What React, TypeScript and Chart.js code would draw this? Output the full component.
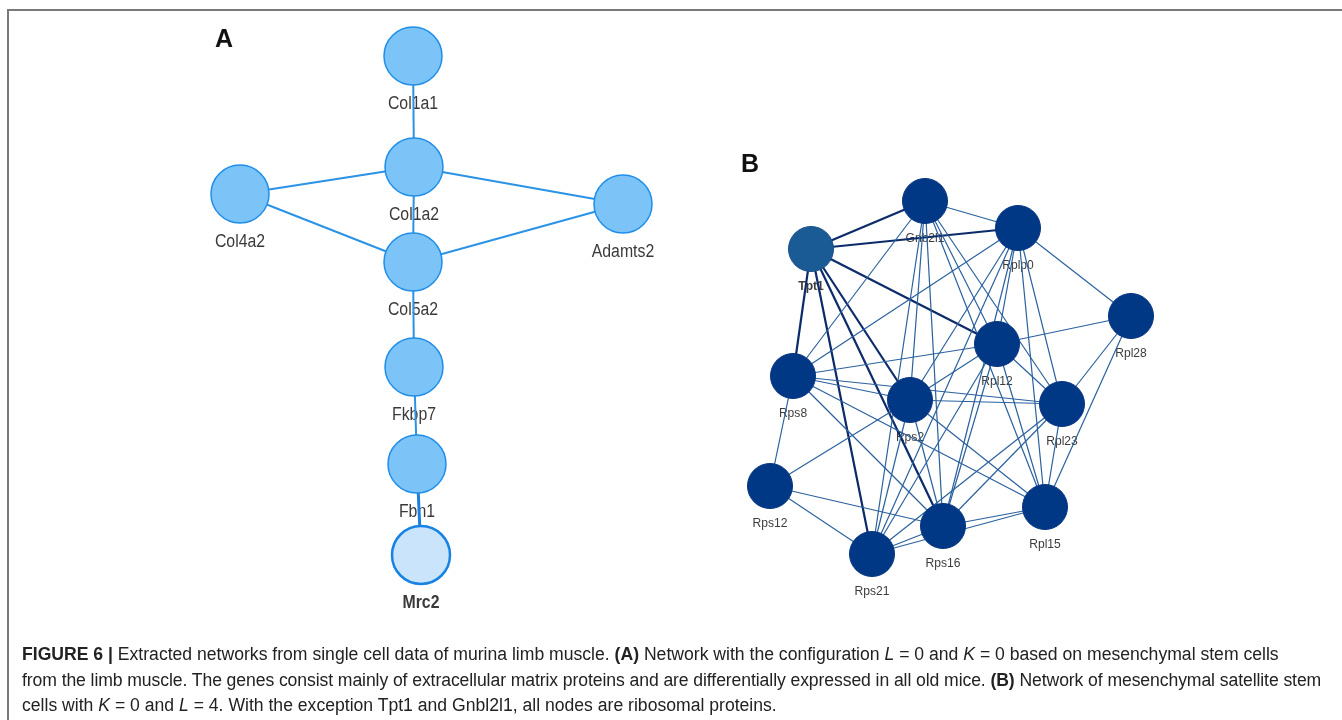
import React, { useEffect, useRef } from "react";
import { Chart, registerables } from "chart.js";

Chart.register(...registerables);

// Network A: extracellular matrix genes (mesenchymal stem cells)
const aNames = ["Col1a1", "Col1a2", "Col4a2", "Adamts2", "Col5a2", "Fkbp7", "Fbn1", "Mrc2"];
const aX = [413, 414, 240, 623, 413, 414, 417, 421];
const aY = [56, 167, 194, 204, 262, 367, 464, 555];
const aEdges: [string, string][] = [
  ["Col1a1", "Col1a2"],
  ["Col1a2", "Col4a2"],
  ["Col1a2", "Adamts2"],
  ["Col1a2", "Col5a2"],
  ["Col4a2", "Col5a2"],
  ["Col5a2", "Adamts2"],
  ["Col5a2", "Fkbp7"],
  ["Fkbp7", "Fbn1"],
];
const aStrongEdges: [string, string][] = [["Fbn1", "Mrc2"]];
const aHighlighted = ["Mrc2"];

// Network B: mesenchymal satellite stem cells
const bNames = ["Gnb2l1", "Rplp0", "Tpt1", "Rpl28", "Rpl12", "Rps8", "Rps2", "Rpl23", "Rps12", "Rps21", "Rps16", "Rpl15"];
const bX = [925, 1018, 811, 1131, 997, 793, 910, 1062, 770, 872, 943, 1045];
const bY = [201, 228, 249, 316, 344, 376, 400, 404, 486, 554, 526, 507];
const bStrongEdges: [string, string][] = [
  ["Tpt1", "Gnb2l1"],
  ["Tpt1", "Rplp0"],
  ["Tpt1", "Rpl12"],
  ["Tpt1", "Rps8"],
  ["Tpt1", "Rps21"],
  ["Tpt1", "Rps16"],
  ["Tpt1", "Rps2"],
];
const bEdges: [string, string][] = [
  ["Gnb2l1", "Rplp0"], ["Gnb2l1", "Rps8"], ["Gnb2l1", "Rps2"], ["Gnb2l1", "Rps21"],
  ["Gnb2l1", "Rps16"], ["Gnb2l1", "Rpl12"], ["Gnb2l1", "Rpl23"], ["Gnb2l1", "Rpl15"],
  ["Rplp0", "Rpl28"], ["Rplp0", "Rps8"], ["Rplp0", "Rpl12"], ["Rplp0", "Rps16"],
  ["Rplp0", "Rps21"], ["Rplp0", "Rpl23"], ["Rplp0", "Rpl15"], ["Rplp0", "Rps2"],
  ["Rpl28", "Rpl12"], ["Rpl28", "Rpl23"], ["Rpl28", "Rpl15"],
  ["Rpl12", "Rps8"], ["Rpl12", "Rps2"], ["Rpl12", "Rps21"], ["Rpl12", "Rps16"],
  ["Rpl12", "Rpl23"], ["Rpl12", "Rpl15"],
  ["Rps8", "Rps2"], ["Rps8", "Rpl23"], ["Rps8", "Rps12"], ["Rps8", "Rps16"], ["Rps8", "Rpl15"],
  ["Rps2", "Rpl23"], ["Rps2", "Rps12"], ["Rps2", "Rps21"], ["Rps2", "Rps16"], ["Rps2", "Rpl15"],
  ["Rpl23", "Rps21"], ["Rpl23", "Rps16"], ["Rpl23", "Rpl15"],
  ["Rps12", "Rps21"], ["Rps12", "Rps16"],
  ["Rps21", "Rps16"], ["Rps21", "Rpl15"],
  ["Rps16", "Rpl15"],
];
const bHighlighted = ["Tpt1"];

const W = 1342;
const H = 720;

function point(names: string[], xs: number[], ys: number[], name: string) {
  const i = names.indexOf(name);
  return { x: xs[i], y: ys[i] };
}

function edgeDatasets(
  edges: [string, string][],
  names: string[],
  xs: number[],
  ys: number[],
  color: string,
  width: number
) {
  return edges.map(([s, t]) => ({
    data: [point(names, xs, ys, s), point(names, xs, ys, t)],
    showLine: true,
    borderColor: color,
    borderWidth: width,
    pointRadius: 0,
    order: 2,
  }));
}

// Node captions are painted under edges and nodes, as in the network viewer
const nodeLabels = {
  id: "nodeLabels",
  beforeDatasetsDraw(chart: any) {
    const { ctx, scales } = chart;
    const draw = (names: string[], xs: number[], ys: number[], bold: string[], size: number, sx: number, dy: number, color: string) => {
      names.forEach((n, i) => {
        const px = scales.x.getPixelForValue(xs[i]);
        const py = scales.y.getPixelForValue(ys[i]) + dy;
        ctx.save();
        ctx.translate(px, py);
        ctx.scale(sx, 1);
        ctx.font = `${bold.includes(n) ? "bold " : ""}${size}px "Liberation Sans", Arial, sans-serif`;
        ctx.fillStyle = color;
        ctx.textAlign = "center";
        ctx.textBaseline = "middle";
        ctx.fillText(n, 0, 0);
        ctx.restore();
      });
    };
    draw(aNames, aX, aY, aHighlighted, 18, 0.88, 48, "#3a3a3a");
    draw(bNames, bX, bY, bHighlighted, 13, 0.93, 37, "#3c3c3c");
  },
};

function NetworkChart() {
  const ref = useRef<HTMLCanvasElement | null>(null);
  useEffect(() => {
    if (!ref.current) return;
    const aNodes = {
      data: aNames.map((_, i) => ({ x: aX[i], y: aY[i] })),
      pointRadius: 29,
      pointBackgroundColor: aNames.map((n) => (aHighlighted.includes(n) ? "#c9e4fb" : "#7cc4f8")),
      pointBorderColor: aNames.map((n) => (aHighlighted.includes(n) ? "#1683e4" : "#1f8ee8")),
      pointBorderWidth: aNames.map((n) => (aHighlighted.includes(n) ? 2.5 : 1.5)),
      order: 0,
    };
    const bNodes = {
      data: bNames.map((_, i) => ({ x: bX[i], y: bY[i] })),
      pointRadius: 22.5,
      pointBackgroundColor: bNames.map((n) => (bHighlighted.includes(n) ? "#1b5b95" : "#003886")),
      pointBorderColor: bNames.map((n) => (bHighlighted.includes(n) ? "#174f86" : "#053480")),
      pointBorderWidth: 1,
      order: 0,
    };
    const chart = new Chart(ref.current, {
      type: "scatter",
      data: {
        datasets: [
          aNodes,
          bNodes,
          ...edgeDatasets(aEdges, aNames, aX, aY, "#2b93e6", 2),
          ...edgeDatasets(aStrongEdges, aNames, aX, aY, "#1a7fe0", 3),
          ...edgeDatasets(bEdges, bNames, bX, bY, "#2a619e", 1.2),
          ...edgeDatasets(bStrongEdges, bNames, bX, bY, "#0b2b6a", 2.2),
        ] as any,
      },
      options: {
        animation: false,
        responsive: false,
        events: [],
        layout: { padding: 0, autoPadding: false },
        plugins: { legend: { display: false }, tooltip: { enabled: false } },
        scales: {
          x: { type: "linear", min: 0, max: W, display: false },
          y: { type: "linear", min: 0, max: H, reverse: true, display: false },
        },
      },
      plugins: [nodeLabels],
    });
    return () => chart.destroy();
  }, []);
  return <canvas ref={ref} width={W} height={H} style={{ position: "absolute", left: 0, top: 0 }} />;
}

const captionLines = [
  <>
    <b>FIGURE 6 |</b> Extracted networks from single cell data of murina limb muscle. <b>(A)</b> Network with the
    configuration <i>L</i> = 0 and <i>K</i> = 0 based on mesenchymal stem cells
  </>,
  <>
    from the limb muscle. The genes consist mainly of extracellular matrix proteins and are differentially expressed in
    all old mice. <b>(B)</b> Network of mesenchymal satellite stem
  </>,
  <>
    cells with <i>K</i> = 0 and <i>L</i> = 4. With the exception Tpt1 and Gnbl2l1, all nodes are ribosomal proteins.
  </>,
];
const captionSpacing = ["0px", "-0.09px", "0px"];

export default function App() {
  return (
    <div style={{ position: "absolute", left: 0, top: 0, width: W, height: H, overflow: "hidden", background: "#fff" }}>
      <NetworkChart />
      <div style={{ position: "absolute", left: 7, top: 9, width: W - 7, height: 2, background: "#7a7a7a" }} />
      <div style={{ position: "absolute", left: 7, top: 9, width: 2, height: H - 9, background: "#7a7a7a" }} />
      <div style={{ position: "absolute", left: 215, top: 24, font: 'bold 25px "Liberation Sans", Arial, sans-serif', color: "#111" }}>A</div>
      <div style={{ position: "absolute", left: 741, top: 149, font: 'bold 25px "Liberation Sans", Arial, sans-serif', color: "#111" }}>B</div>
      <div
        style={{
          position: "absolute",
          left: 22,
          top: 642,
          font: '17.6px "Liberation Sans", Arial, sans-serif',
          lineHeight: "25.5px",
          color: "#222",
          whiteSpace: "nowrap",
        }}
      >
        {captionLines.map((l, i) => (
          <div key={i} style={{ letterSpacing: captionSpacing[i] }}>
            {l}
          </div>
        ))}
      </div>
    </div>
  );
}
